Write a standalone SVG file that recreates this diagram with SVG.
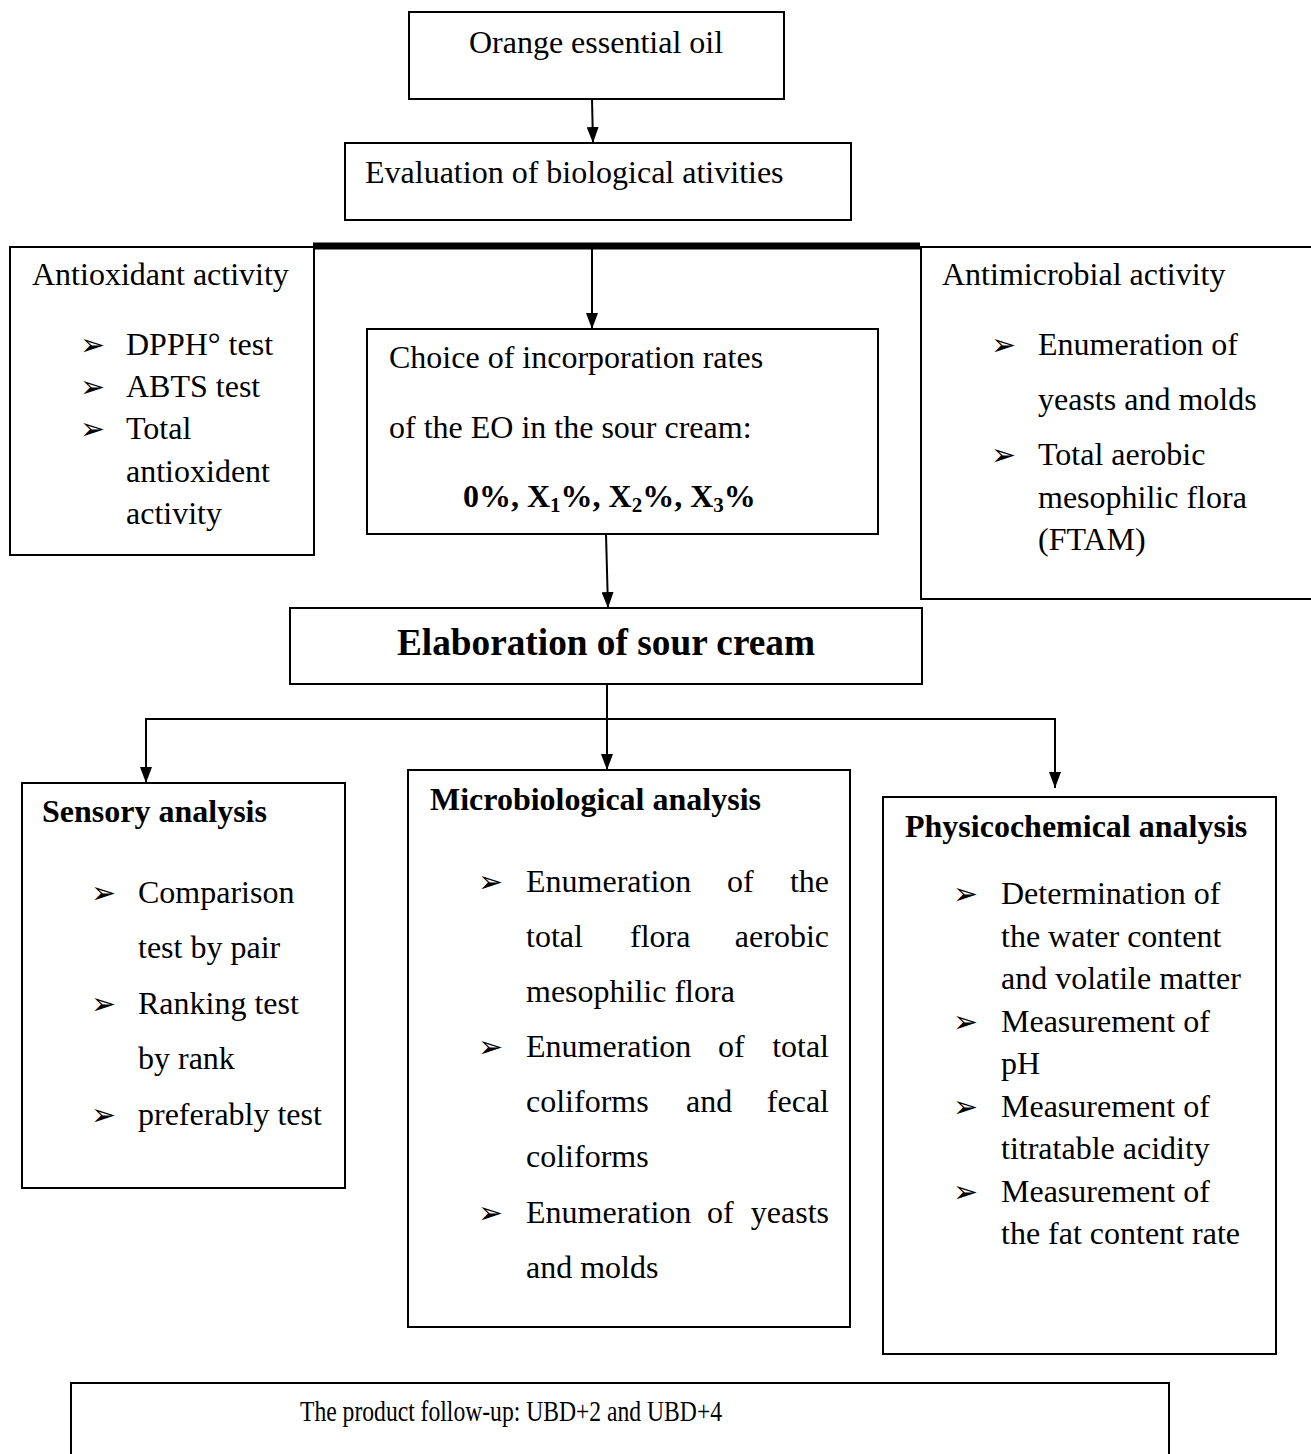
<svg xmlns="http://www.w3.org/2000/svg" width="1311" height="1454" viewBox="0 0 1311 1454">
<style>
  .box { fill: #fff; stroke: #000; stroke-width: 2; }
  .t { font-family: "Liberation Serif", "Times New Roman", serif; font-size: 32px; fill: #000; }
  .b { font-weight: bold; }
  .big { font-size: 37.3px; }
  .foot { font-size: 30px; }
  .bul { font-family: "DejaVu Sans", sans-serif; font-size: 30px; fill: #000; }
  .con { fill: none; stroke: #000; stroke-width: 2; }
  .thick { fill: none; stroke: #000; stroke-width: 7; }
</style>
<defs>
  <marker id="arr" viewBox="0 0 16 12" refX="16" refY="6" markerWidth="16" markerHeight="12" markerUnits="userSpaceOnUse" orient="auto">
    <path d="M0,0 L16,6 L0,12 z" fill="#000"/>
  </marker>
</defs>
<rect width="1311" height="1454" fill="#fff"/>

<g id="connectors">
  <path class="con" d="M592,99 L593,143" marker-end="url(#arr)"/>
  <path class="thick" d="M313,246 H920"/>
  <path class="con" d="M592,249 V329" marker-end="url(#arr)"/>
  <path class="con" d="M606,534 L608,608" marker-end="url(#arr)"/>
  <path class="con" d="M607,684 V770" marker-end="url(#arr)"/>
  <path class="con" d="M146,719 H1055"/>
  <path class="con" d="M146,718 V783" marker-end="url(#arr)"/>
  <path class="con" d="M1055,718 V788" marker-end="url(#arr)"/>
</g>

<g id="node-orange-oil">
  <rect class="box" x="409" y="12" width="375" height="87"/>
  <text class="t" x="596" y="53" text-anchor="middle">Orange essential oil</text>
</g>

<g id="node-evaluation">
  <rect class="box" x="345" y="143" width="506" height="77"/>
  <text class="t" x="365" y="183">Evaluation of biological ativities</text>
</g>

<g id="node-antioxidant">
  <rect class="box" x="10" y="247" width="304" height="308"/>
  <text class="t" x="32" y="285">Antioxidant activity</text>
  <text class="bul" x="80" y="355">➢</text>
  <text class="t" x="126" y="355">DPPH° test</text>
  <text class="bul" x="80" y="397">➢</text>
  <text class="t" x="126" y="397">ABTS test</text>
  <text class="bul" x="80" y="439">➢</text>
  <text class="t" x="126" y="439">Total</text>
  <text class="t" x="126" y="482">antioxident</text>
  <text class="t" x="126" y="524">activity</text>
</g>

<g id="node-choice">
  <rect class="box" x="367" y="329" width="511" height="205"/>
  <text class="t" x="389" y="368">Choice of incorporation rates</text>
  <text class="t" x="389" y="438">of the EO in the sour cream:</text>
  <text class="t b" x="463" y="507">0%, X<tspan font-size="21" dy="5">1</tspan><tspan dy="-5">%, X</tspan><tspan font-size="21" dy="5">2</tspan><tspan dy="-5">%, X</tspan><tspan font-size="21" dy="5">3</tspan><tspan dy="-5">%</tspan></text>
</g>

<g id="node-antimicrobial">
  <rect class="box" x="921" y="247" width="400" height="352"/>
  <text class="t" x="942" y="285">Antimicrobial activity</text>
  <text class="bul" x="991" y="355">➢</text>
  <text class="t" x="1038" y="355">Enumeration of</text>
  <text class="t" x="1038" y="410">yeasts and molds</text>
  <text class="bul" x="991" y="465">➢</text>
  <text class="t" x="1038" y="465">Total aerobic</text>
  <text class="t" x="1038" y="508">mesophilic flora</text>
  <text class="t" x="1038" y="550">(FTAM)</text>
</g>

<g id="node-elaboration">
  <rect class="box" x="290" y="608" width="632" height="76"/>
  <text class="t b big" x="606" y="655" text-anchor="middle">Elaboration of sour cream</text>
</g>

<g id="node-sensory">
  <rect class="box" x="22" y="783" width="323" height="405"/>
  <text class="t b" x="42" y="822">Sensory analysis</text>
  <text class="bul" x="91" y="903">➢</text>
  <text class="t" x="138" y="903">Comparison</text>
  <text class="t" x="138" y="958">test by pair</text>
  <text class="bul" x="91" y="1014">➢</text>
  <text class="t" x="138" y="1014">Ranking test</text>
  <text class="t" x="138" y="1069">by rank</text>
  <text class="bul" x="91" y="1125">➢</text>
  <text class="t" x="138" y="1125">preferably test</text>
</g>

<g id="node-microbiological">
  <rect class="box" x="408" y="770" width="442" height="557"/>
  <text class="t b" x="430" y="810">Microbiological analysis</text>
  <text class="bul" x="478" y="892">➢</text>
  <text class="t" y="892"><tspan x="526">Enumeration</tspan><tspan x="727">of</tspan><tspan x="829" text-anchor="end">the</tspan></text>
  <text class="t" y="947"><tspan x="526">total</tspan><tspan x="630">flora</tspan><tspan x="829" text-anchor="end">aerobic</tspan></text>
  <text class="t" x="526" y="1002">mesophilic flora</text>
  <text class="bul" x="478" y="1057">➢</text>
  <text class="t" y="1057"><tspan x="526">Enumeration</tspan><tspan x="718">of</tspan><tspan x="829" text-anchor="end">total</tspan></text>
  <text class="t" y="1112"><tspan x="526">coliforms</tspan><tspan x="686">and</tspan><tspan x="829" text-anchor="end">fecal</tspan></text>
  <text class="t" x="526" y="1167">coliforms</text>
  <text class="bul" x="478" y="1223">➢</text>
  <text class="t" y="1223"><tspan x="526">Enumeration</tspan><tspan x="707">of</tspan><tspan x="829" text-anchor="end">yeasts</tspan></text>
  <text class="t" x="526" y="1278">and molds</text>
</g>

<g id="node-physicochemical">
  <rect class="box" x="883" y="797" width="393" height="557"/>
  <text class="t b" x="905" y="837">Physicochemical analysis</text>
  <text class="bul" x="953" y="904">➢</text>
  <text class="t" x="1001" y="904">Determination of</text>
  <text class="t" x="1001" y="947">the water content</text>
  <text class="t" x="1001" y="989">and volatile matter</text>
  <text class="bul" x="953" y="1032">➢</text>
  <text class="t" x="1001" y="1032">Measurement of</text>
  <text class="t" x="1001" y="1074">pH</text>
  <text class="bul" x="953" y="1117">➢</text>
  <text class="t" x="1001" y="1117">Measurement of</text>
  <text class="t" x="1001" y="1159">titratable acidity</text>
  <text class="bul" x="953" y="1202">➢</text>
  <text class="t" x="1001" y="1202">Measurement of</text>
  <text class="t" x="1001" y="1244">the fat content rate</text>
</g>

<g id="node-followup">
  <rect class="box" x="71" y="1383" width="1098" height="90"/>
  <text class="t foot" x="300" y="1421" textLength="422" lengthAdjust="spacingAndGlyphs">The product follow-up: UBD+2 and UBD+4</text>
</g>
</svg>
